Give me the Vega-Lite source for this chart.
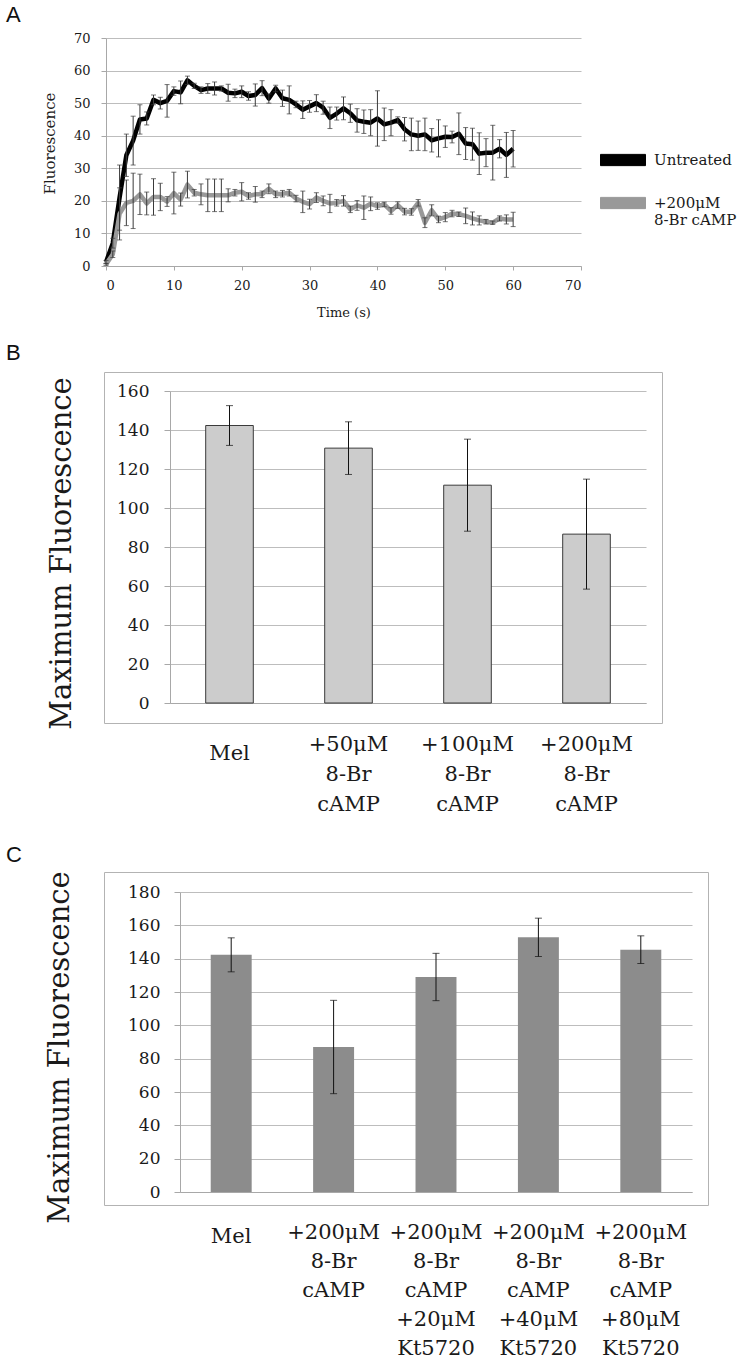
{
  "$schema": "https://vega.github.io/schema/vega-lite/v6.json",
  "background": "white",
  "padding": {"left": 5, "top": 3, "right": 0, "bottom": 0},
  "config": {
    "view": {"stroke": null},
    "axis": {
      "labelFont": "DejaVu Serif",
      "titleFont": "DejaVu Serif",
      "labelColor": "#1a1a1a",
      "titleColor": "#1a1a1a",
      "titleFontWeight": "normal",
      "gridColor": "#bdbdbd",
      "domainColor": "#a8a8a8",
      "tickColor": "#a8a8a8"
    },
    "legend": {"labelFont": "DejaVu Serif", "labelColor": "#1a1a1a"},
    "title": {"font": "Liberation Sans", "fontWeight": "normal", "color": "#111111"}
  },
  "datasets": {
    "tc": [
      {"s": "Untreated", "t": 0, "v": 1.2, "e": 0.5},
      {"s": "Untreated", "t": 1, "v": 7, "e": 1.5},
      {"s": "Untreated", "t": 2, "v": 21, "e": 10},
      {"s": "Untreated", "t": 3, "v": 34, "e": 6.5},
      {"s": "Untreated", "t": 4, "v": 38.5, "e": 7.5},
      {"s": "Untreated", "t": 5, "v": 45, "e": 4.5},
      {"s": "Untreated", "t": 6, "v": 45.3, "e": 2},
      {"s": "Untreated", "t": 7, "v": 51, "e": 1.5},
      {"s": "Untreated", "t": 8, "v": 50, "e": 1.8},
      {"s": "Untreated", "t": 9, "v": 50.7, "e": 5},
      {"s": "Untreated", "t": 10, "v": 53.7, "e": 1.3},
      {"s": "Untreated", "t": 11, "v": 53.3, "e": 3.5},
      {"s": "Untreated", "t": 12, "v": 57, "e": 1.3},
      {"s": "Untreated", "t": 13, "v": 55.3, "e": 0.8},
      {"s": "Untreated", "t": 14, "v": 54, "e": 1},
      {"s": "Untreated", "t": 15, "v": 54.5, "e": 1.5},
      {"s": "Untreated", "t": 16, "v": 54.5, "e": 2},
      {"s": "Untreated", "t": 17, "v": 54.5, "e": 0.8},
      {"s": "Untreated", "t": 18, "v": 53.2, "e": 2.6},
      {"s": "Untreated", "t": 19, "v": 53, "e": 1.3},
      {"s": "Untreated", "t": 20, "v": 53.5, "e": 1.8},
      {"s": "Untreated", "t": 21, "v": 52.2, "e": 1.3},
      {"s": "Untreated", "t": 22, "v": 52.5, "e": 3.4},
      {"s": "Untreated", "t": 23, "v": 54.6, "e": 2.3},
      {"s": "Untreated", "t": 24, "v": 51.4, "e": 1.4},
      {"s": "Untreated", "t": 25, "v": 54.5, "e": 1},
      {"s": "Untreated", "t": 26, "v": 51.5, "e": 2.5},
      {"s": "Untreated", "t": 27, "v": 51, "e": 4.3},
      {"s": "Untreated", "t": 28, "v": 49.6, "e": 1},
      {"s": "Untreated", "t": 29, "v": 48, "e": 2.7},
      {"s": "Untreated", "t": 30, "v": 49, "e": 1.8},
      {"s": "Untreated", "t": 31, "v": 50, "e": 2.6},
      {"s": "Untreated", "t": 32, "v": 48.6, "e": 2},
      {"s": "Untreated", "t": 33, "v": 45.5, "e": 3.3},
      {"s": "Untreated", "t": 34, "v": 46.8, "e": 2},
      {"s": "Untreated", "t": 35, "v": 48.4, "e": 3.5},
      {"s": "Untreated", "t": 36, "v": 46.9, "e": 2.8},
      {"s": "Untreated", "t": 37, "v": 44.7, "e": 3.6},
      {"s": "Untreated", "t": 38, "v": 44.3, "e": 3.6},
      {"s": "Untreated", "t": 39, "v": 44, "e": 4},
      {"s": "Untreated", "t": 40, "v": 45.3, "e": 8.5},
      {"s": "Untreated", "t": 41, "v": 43.5, "e": 5},
      {"s": "Untreated", "t": 42, "v": 44, "e": 4},
      {"s": "Untreated", "t": 43, "v": 44.8, "e": 1},
      {"s": "Untreated", "t": 44, "v": 42, "e": 3.6},
      {"s": "Untreated", "t": 45, "v": 40.4, "e": 5},
      {"s": "Untreated", "t": 46, "v": 40, "e": 4.5},
      {"s": "Untreated", "t": 47, "v": 40.4, "e": 5},
      {"s": "Untreated", "t": 48, "v": 38.6, "e": 3.6},
      {"s": "Untreated", "t": 49, "v": 39.2, "e": 5.7},
      {"s": "Untreated", "t": 50, "v": 39.7, "e": 3.3},
      {"s": "Untreated", "t": 51, "v": 39.6, "e": 1.8},
      {"s": "Untreated", "t": 52, "v": 40.6, "e": 6.4},
      {"s": "Untreated", "t": 53, "v": 37.6, "e": 4.9},
      {"s": "Untreated", "t": 54, "v": 37.4, "e": 4.9},
      {"s": "Untreated", "t": 55, "v": 34.5, "e": 6.4},
      {"s": "Untreated", "t": 56, "v": 34.8, "e": 4.3},
      {"s": "Untreated", "t": 57, "v": 34.8, "e": 8.4},
      {"s": "Untreated", "t": 58, "v": 36, "e": 2.8},
      {"s": "Untreated", "t": 59, "v": 34.1, "e": 6.9},
      {"s": "Untreated", "t": 60, "v": 36, "e": 5.6},
      {"s": "+200μM|8-Br cAMP", "t": 0, "v": 0.5, "e": 0.3},
      {"s": "+200μM|8-Br cAMP", "t": 1, "v": 3.6, "e": 1},
      {"s": "+200μM|8-Br cAMP", "t": 2, "v": 16, "e": 8},
      {"s": "+200μM|8-Br cAMP", "t": 3, "v": 19.4, "e": 7},
      {"s": "+200μM|8-Br cAMP", "t": 4, "v": 20, "e": 8.5},
      {"s": "+200μM|8-Br cAMP", "t": 5, "v": 22, "e": 6.2},
      {"s": "+200μM|8-Br cAMP", "t": 6, "v": 19.2, "e": 3.5},
      {"s": "+200μM|8-Br cAMP", "t": 7, "v": 21.2, "e": 5.6},
      {"s": "+200μM|8-Br cAMP", "t": 8, "v": 21.2, "e": 4.2},
      {"s": "+200μM|8-Br cAMP", "t": 9, "v": 19.8, "e": 1.5},
      {"s": "+200μM|8-Br cAMP", "t": 10, "v": 22.4, "e": 6.4},
      {"s": "+200μM|8-Br cAMP", "t": 11, "v": 20.4, "e": 2},
      {"s": "+200μM|8-Br cAMP", "t": 12, "v": 25, "e": 4.1},
      {"s": "+200μM|8-Br cAMP", "t": 13, "v": 22.5, "e": 1},
      {"s": "+200μM|8-Br cAMP", "t": 14, "v": 22, "e": 3.2},
      {"s": "+200μM|8-Br cAMP", "t": 15, "v": 21.7, "e": 5},
      {"s": "+200μM|8-Br cAMP", "t": 16, "v": 21.7, "e": 5},
      {"s": "+200μM|8-Br cAMP", "t": 17, "v": 21.7, "e": 5},
      {"s": "+200μM|8-Br cAMP", "t": 18, "v": 21.7, "e": 2},
      {"s": "+200μM|8-Br cAMP", "t": 19, "v": 22.5, "e": 1},
      {"s": "+200μM|8-Br cAMP", "t": 20, "v": 22.8, "e": 2.8},
      {"s": "+200μM|8-Br cAMP", "t": 21, "v": 21.5, "e": 1},
      {"s": "+200μM|8-Br cAMP", "t": 22, "v": 22, "e": 2.4},
      {"s": "+200μM|8-Br cAMP", "t": 23, "v": 22, "e": 1},
      {"s": "+200μM|8-Br cAMP", "t": 24, "v": 23.7, "e": 1.5},
      {"s": "+200μM|8-Br cAMP", "t": 25, "v": 22, "e": 1},
      {"s": "+200μM|8-Br cAMP", "t": 26, "v": 22.2, "e": 1},
      {"s": "+200μM|8-Br cAMP", "t": 27, "v": 22.5, "e": 1},
      {"s": "+200μM|8-Br cAMP", "t": 28, "v": 20.7, "e": 1},
      {"s": "+200μM|8-Br cAMP", "t": 29, "v": 19.7, "e": 3.3},
      {"s": "+200μM|8-Br cAMP", "t": 30, "v": 19, "e": 1.5},
      {"s": "+200μM|8-Br cAMP", "t": 31, "v": 21, "e": 1.5},
      {"s": "+200μM|8-Br cAMP", "t": 32, "v": 20, "e": 1.5},
      {"s": "+200μM|8-Br cAMP", "t": 33, "v": 19.2, "e": 2.8},
      {"s": "+200μM|8-Br cAMP", "t": 34, "v": 19.4, "e": 1},
      {"s": "+200μM|8-Br cAMP", "t": 35, "v": 20, "e": 1.6},
      {"s": "+200μM|8-Br cAMP", "t": 36, "v": 17.4, "e": 1},
      {"s": "+200μM|8-Br cAMP", "t": 37, "v": 18.6, "e": 1.5},
      {"s": "+200μM|8-Br cAMP", "t": 38, "v": 17.9, "e": 3.6},
      {"s": "+200μM|8-Br cAMP", "t": 39, "v": 19.1, "e": 2.1},
      {"s": "+200μM|8-Br cAMP", "t": 40, "v": 18.4, "e": 1},
      {"s": "+200μM|8-Br cAMP", "t": 41, "v": 18.9, "e": 0.7},
      {"s": "+200μM|8-Br cAMP", "t": 42, "v": 16.9, "e": 1},
      {"s": "+200μM|8-Br cAMP", "t": 43, "v": 18.7, "e": 1},
      {"s": "+200μM|8-Br cAMP", "t": 44, "v": 16.7, "e": 1},
      {"s": "+200μM|8-Br cAMP", "t": 45, "v": 16.6, "e": 1},
      {"s": "+200μM|8-Br cAMP", "t": 46, "v": 19.4, "e": 1},
      {"s": "+200μM|8-Br cAMP", "t": 47, "v": 13.3, "e": 1.5},
      {"s": "+200μM|8-Br cAMP", "t": 48, "v": 17.1, "e": 1.7},
      {"s": "+200μM|8-Br cAMP", "t": 49, "v": 14.3, "e": 1},
      {"s": "+200μM|8-Br cAMP", "t": 50, "v": 15, "e": 1.4},
      {"s": "+200μM|8-Br cAMP", "t": 51, "v": 16.1, "e": 1},
      {"s": "+200μM|8-Br cAMP", "t": 52, "v": 15.9, "e": 0.7},
      {"s": "+200μM|8-Br cAMP", "t": 53, "v": 15.4, "e": 2.4},
      {"s": "+200μM|8-Br cAMP", "t": 54, "v": 14.6, "e": 2},
      {"s": "+200μM|8-Br cAMP", "t": 55, "v": 14, "e": 1.4},
      {"s": "+200μM|8-Br cAMP", "t": 56, "v": 13.6, "e": 0.7},
      {"s": "+200μM|8-Br cAMP", "t": 57, "v": 13.3, "e": 0.5},
      {"s": "+200μM|8-Br cAMP", "t": 58, "v": 14.6, "e": 0.8},
      {"s": "+200μM|8-Br cAMP", "t": 59, "v": 14.3, "e": 1.4},
      {"s": "+200μM|8-Br cAMP", "t": 60, "v": 14.3, "e": 2.2}
    ],
    "b": [
      {"condition": "Mel", "mean": 142.3, "err": 10.2},
      {"condition": "+50μM|8-Br|cAMP", "mean": 130.7, "err": 13.5},
      {"condition": "+100μM|8-Br|cAMP", "mean": 111.7, "err": 23.6},
      {"condition": "+200μM|8-Br|cAMP", "mean": 86.6, "err": 28.2}
    ],
    "c": [
      {"condition": "Mel", "mean": 142.3, "err": 10.2},
      {"condition": "+200μM|8-Br|cAMP", "mean": 87.0, "err": 28.0},
      {"condition": "+200μM|8-Br|cAMP|+20μM|Kt5720", "mean": 129.0, "err": 14.2},
      {"condition": "+200μM|8-Br|cAMP|+40μM|Kt5720", "mean": 152.8, "err": 11.5},
      {"condition": "+200μM|8-Br|cAMP|+80μM|Kt5720", "mean": 145.4, "err": 8.3}
    ]
  },
  "spacing": 22,
  "vconcat": [
    {
      "title": {"text": "A", "anchor": "start", "frame": "group", "orient": "top", "dx": -98, "offset": -18.5, "baseline": "alphabetic", "fontSize": 22},
      "width": 496,
      "height": 279,
      "data": {"name": "tc"},
      "layer": [
        {
          "mark": {"type": "line", "strokeWidth": 4.5, "strokeJoin": "round"},
          "encoding": {
            "x": {"field": "t", "type": "quantitative",
              "scale": {"domain": [0, 70], "range": [2, 477], "nice": false, "zero": false},
              "axis": {"title": "Time (s)", "values": [0, 10, 20, 30, 40, 50, 60, 70], "tickCount": 20, "offset": -38, "tickSize": 4, "labelPadding": 9, "labelFontSize": 13, "titleFontSize": 13, "titlePadding": 14, "grid": false}},
            "y": {"field": "v", "type": "quantitative",
              "scale": {"domain": [0, 70], "range": [241, 13], "nice": false},
              "axis": {"title": "Fluorescence", "values": [0, 10, 20, 30, 40, 50, 60, 70], "tickCount": 20, "offset": -2, "tickSize": 5, "labelPadding": 11, "labelFontSize": 13, "titleFontSize": 15, "titlePadding": 16, "titleY": 118, "grid": true}},
            "color": {"field": "s", "type": "nominal",
              "scale": {"domain": ["Untreated", "+200μM|8-Br cAMP"], "range": ["#000000", "#999999"]},
              "legend": {
                "orient": "none", "legendX": 496, "legendY": 112, "title": null, "padding": 0,
                "symbolType": "M-1,-0.25H1V0.25H-1Z", "symbolSize": 2025,
                "labelFontSize": 15, "labelLineHeight": 19, "labelOffset": 8, "labelLimit": 200,
                "labelExpr": "split(datum.label, '|')",
                "rowPadding": 12,
                "encode": {
                  "symbols": {"update": {
                    "fill": {"signal": "datum.value === 'Untreated' ? '#000000' : '#999999'"},
                    "stroke": {"signal": "datum.value === 'Untreated' ? '#000000' : '#4d4d4d'"},
                    "strokeWidth": {"value": 1},
                    "opacity": {"value": 1}
                  }}
                }
              }}
          }
        },
        {
          "mark": {"type": "errorbar", "ticks": {"size": 5, "color": "#3a3a3a"}, "rule": {"color": "#3a3a3a", "strokeWidth": 1}, "color": "#3a3a3a", "thickness": 1},
          "encoding": {
            "x": {"field": "t", "type": "quantitative", "title": "Time (s)"},
            "y": {"field": "v", "type": "quantitative", "title": "Fluorescence"},
            "yError": {"field": "e"}
          }
        }
      ]
    },
    {
      "spacing": 28,
      "vconcat": [
        {
          "title": {"text": "B", "anchor": "start", "frame": "group", "orient": "top", "dx": -98, "offset": -9.5, "baseline": "alphabetic", "fontSize": 22},
          "width": 558,
          "height": 351,
          "view": {"stroke": "#b3b3b3", "strokeWidth": 1},
          "data": {"name": "b"},
          "layer": [
            {
              "mark": {"type": "bar", "fill": "#cccccc", "stroke": "#3a3a3a", "strokeWidth": 1},
              "encoding": {
                "x": {"field": "condition", "type": "nominal", "sort": null,
                  "scale": {"range": [66, 542], "paddingInner": 0.6, "paddingOuter": 0.3},
                  "axis": {"title": null, "offset": -20, "ticks": false, "labelAngle": 0, "labelFontSize": 21, "labelLineHeight": 30,
                    "labelExpr": "split(datum.label, '|')",
                    "labelPadding": {"condition": {"test": "datum.value === 'Mel'", "value": 39}, "value": 30}, "grid": false}},
                "y": {"field": "mean", "type": "quantitative",
                  "scale": {"domain": [0, 160], "range": [331, 19], "nice": false},
                  "axis": {"title": "Maximum Fluorescence", "values": [0, 20, 40, 60, 80, 100, 120, 140, 160], "tickCount": 20, "offset": -66, "tickSize": 6, "labelPadding": 15, "labelFontSize": 17, "titleFontSize": 29, "titlePadding": 40, "titleY": 181, "grid": true}}
              }
            },
            {
              "mark": {"type": "errorbar", "ticks": {"size": 7, "color": "#111111"}, "rule": {"color": "#111111"}, "color": "#111111", "thickness": 1},
              "encoding": {
                "x": {"field": "condition", "type": "nominal", "sort": null, "title": null},
                "y": {"field": "mean", "type": "quantitative", "title": "Maximum Fluorescence"},
                "yError": {"field": "err"}
              }
            }
          ]
        },
        {
          "title": {"text": "C", "anchor": "start", "frame": "group", "orient": "top", "dx": -98, "offset": -13.5, "baseline": "alphabetic", "fontSize": 22},
          "width": 604,
          "height": 333,
          "view": {"stroke": "#b3b3b3", "strokeWidth": 1},
          "data": {"name": "c"},
          "layer": [
            {
              "mark": {"type": "bar", "fill": "#8c8c8c"},
              "encoding": {
                "x": {"field": "condition", "type": "nominal", "sort": null,
                  "scale": {"range": [76, 588], "paddingInner": 0.6, "paddingOuter": 0.3},
                  "axis": {"title": null, "offset": -13, "ticks": false, "labelAngle": 0, "labelFontSize": 21, "labelLineHeight": 29,
                    "labelExpr": "split(datum.label, '|')",
                    "labelPadding": {"condition": {"test": "datum.value === 'Mel'", "value": 33}, "value": 29}, "grid": false}},
                "y": {"field": "mean", "type": "quantitative",
                  "scale": {"domain": [0, 180], "range": [320, 20], "nice": false},
                  "axis": {"title": "Maximum Fluorescence", "values": [0, 20, 40, 60, 80, 100, 120, 140, 160, 180], "tickCount": 20, "offset": -76, "tickSize": 6, "labelPadding": 14, "labelFontSize": 17, "titleFontSize": 29, "titlePadding": 53, "titleY": 175, "grid": true}}
              }
            },
            {
              "mark": {"type": "errorbar", "ticks": {"size": 7, "color": "#111111"}, "rule": {"color": "#111111"}, "color": "#111111", "thickness": 1},
              "encoding": {
                "x": {"field": "condition", "type": "nominal", "sort": null, "title": null},
                "y": {"field": "mean", "type": "quantitative", "title": "Maximum Fluorescence"},
                "yError": {"field": "err"}
              }
            }
          ]
        }
      ]
    }
  ]
}
